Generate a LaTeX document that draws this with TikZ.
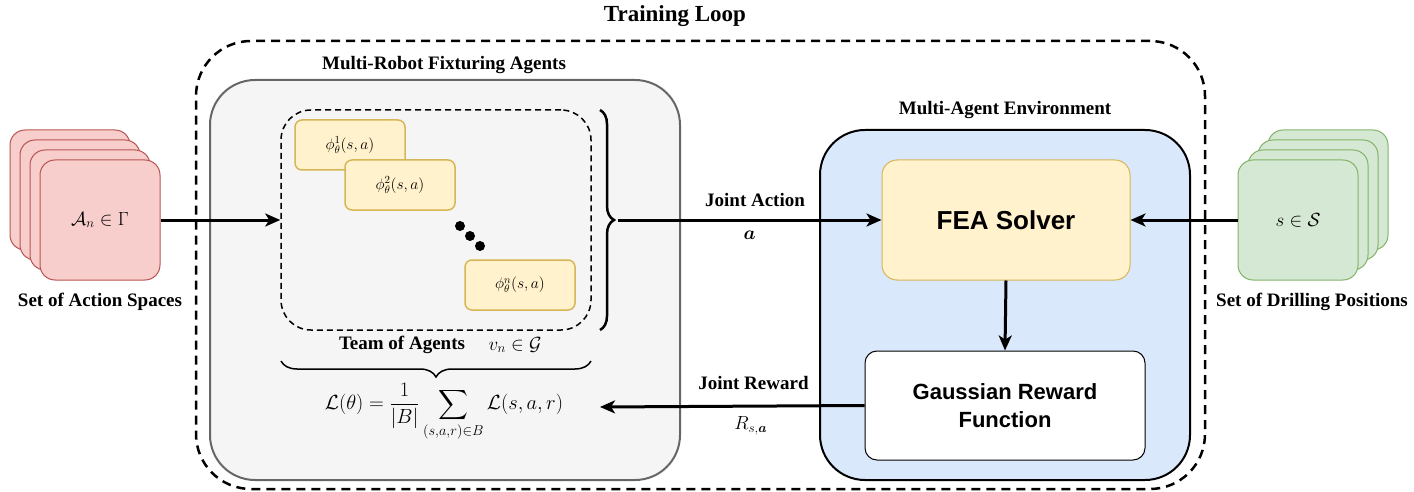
\RequirePackage{fix-cm}
\documentclass[tikz,border=0pt]{standalone}
\usepackage{amsmath}
\usepackage{bm}
\usepackage{fontspec}
\setmainfont{Liberation Serif}
\newfontfamily\arialfont{Liberation Sans}
\usetikzlibrary{calc, arrows.meta, decorations.pathreplacing}

\definecolor{redfill}{HTML}{F8CECC}
\definecolor{redline}{HTML}{B85450}
\definecolor{greenfill}{HTML}{D5E8D4}
\definecolor{greenline}{HTML}{82B366}
\definecolor{yellowfill}{HTML}{FFF2CC}
\definecolor{yellowline}{HTML}{D6B656}
\definecolor{bluefill}{HTML}{DAE8FC}
\definecolor{grayfill}{HTML}{F5F5F5}
\definecolor{grayline}{HTML}{666666}

\begin{document}
\begin{tikzpicture}[x=1pt, y=-1pt,
		lbl/.style={font=\fontsize{19}{22}\selectfont\bfseries},
		mth/.style={font=\fontsize{19}{22}\selectfont},
		box/.style={rectangle, inner sep=0pt},
		card/.style={box, rounded corners=15pt, minimum width=120pt, minimum height=120pt, line width=1pt},
		agent/.style={box, rounded corners=7pt, draw=yellowline, fill=yellowfill, line width=1.5pt, minimum width=110pt, minimum height=50pt, font=\fontsize{15.5}{18}\selectfont},
		flow/.style={line width=3pt, -{Stealth[length=15pt, width=13pt, inset=4pt]}},
		]
		\useasboundingbox (0,0) rectangle (1414,492);
		
		% Training loop frame
		\node[box, draw, line width=2.5pt, dash pattern=on 9pt off 6pt, rounded corners=55pt, minimum width=1009pt, minimum height=448pt] (loop) at (700.5,265) {};
		\node[font=\fontsize{23}{26}\selectfont\bfseries] (looplbl) at (675,16) {Training Loop};
		
		% Agents side
		\node[box, draw=grayline, fill=grayfill, line width=2pt, rounded corners=45pt, minimum width=470pt, minimum height=400pt] (agents) at (445,280) {};
		\node[lbl] (agentslbl) at (444,65) {Multi-Robot Fixturing Agents};
		\node[box, draw, line width=1.5pt, dash pattern=on 6pt off 4pt, rounded corners=30pt, minimum width=310pt, minimum height=220pt] (team) at (436,220) {};
		
		\node[agent] (phi1) at (350,145) {$\phi_\theta^1(s,a)$};
		\node[agent] (phi2) at (400,185) {$\phi_\theta^2(s,a)$};
		\node[agent] (phin) at (520,285) {$\phi_\theta^n(s,a)$};
		\foreach \i in {0,1,2}{
			\fill (460+10*\i, 226+10*\i) circle (5pt);
		}
		
		\node[lbl] (teamlbl) at (402,345) {Team of Agents};
		\node[mth] (teamset) at (515,345) {$v_n\in\mathcal{G}$};
		\draw[decorate, decoration={brace, amplitude=16pt}, line width=1.5pt] (591,361) -- (281,361);
		\node[font=\fontsize{20.5}{24}\selectfont] (loss) at (444,412) {$\displaystyle\mathcal{L}(\theta)=\frac{1}{|B|}\sum_{(s,a,r)\in B}\mathcal{L}(s,a,r)$};
		
		% brace collecting the agents
		\draw[decorate, decoration={brace, amplitude=14pt}, line width=2.5pt] (600,110) -- (600,330);
		\coordinate (tip) at (618,220);
		\coordinate (lossend) at (600,407);
		
		% Environment side
		\node[box, draw, fill=bluefill, line width=2pt, rounded corners=45pt, minimum width=370pt, minimum height=350pt] (env) at (1005,305) {};
		\node[lbl] (envlbl) at (1005,110) {Multi-Agent Environment};
		\node[box, draw=yellowline, fill=yellowfill, line width=1pt, rounded corners=15pt, minimum width=248pt, minimum height=120pt, font=\arialfont\fontsize{26}{30}\selectfont\bfseries] (fea) at (1006,220) {FEA Solver};
		\node[box, draw, fill=white, line width=1pt, rounded corners=12pt, minimum width=280pt, minimum height=109pt, align=center, font=\arialfont\fontsize{22}{28}\selectfont\bfseries] (gauss) at (1005,405.5) {Gaussian Reward\\Function};
		
		% stacked sets
		\foreach \k in {3,2,1}{
			\node[card, draw=redline, fill=redfill] (A\k) at (100-10*\k, 220-10*\k) {};
			\node[card, draw=greenline, fill=greenfill] (S\k) at (1298+10*\k, 220-10*\k) {};
		}
		\node[card, draw=redline, fill=redfill, mth] (A0) at (100,220) {$\mathcal{A}_n\in\Gamma$};
		\node[card, draw=greenline, fill=greenfill, mth] (S0) at (1298,220) {$s\in\mathcal{S}$};
		\node[lbl] (Albl) at (100,302) {Set of Action Spaces};
		\node[lbl] (Slbl) at (1312,302) {Set of Drilling Positions};
		
		% connectors
		\draw[flow] (A0.east) -- (team.west);
		\draw[flow] (S0.west) -- (fea.east);
		\draw[flow] (fea.south) -- (gauss.north);
		\draw[flow] (tip) -- (fea.west)
			node[lbl, pos=0.52, above=8pt] (actlbl) {Joint Action}
			node[mth, pos=0.5, below=6pt] (actsym) {$\bm{a}$};
		\draw[flow] (gauss.west) -- (lossend)
			node[lbl, pos=0.42, above=12pt] (rewlbl) {Joint Reward}
			node[mth, pos=0.43, below=6pt] (rewsym) {$R_{s,\bm{a}}$};
		
	\end{tikzpicture}
\end{document}
